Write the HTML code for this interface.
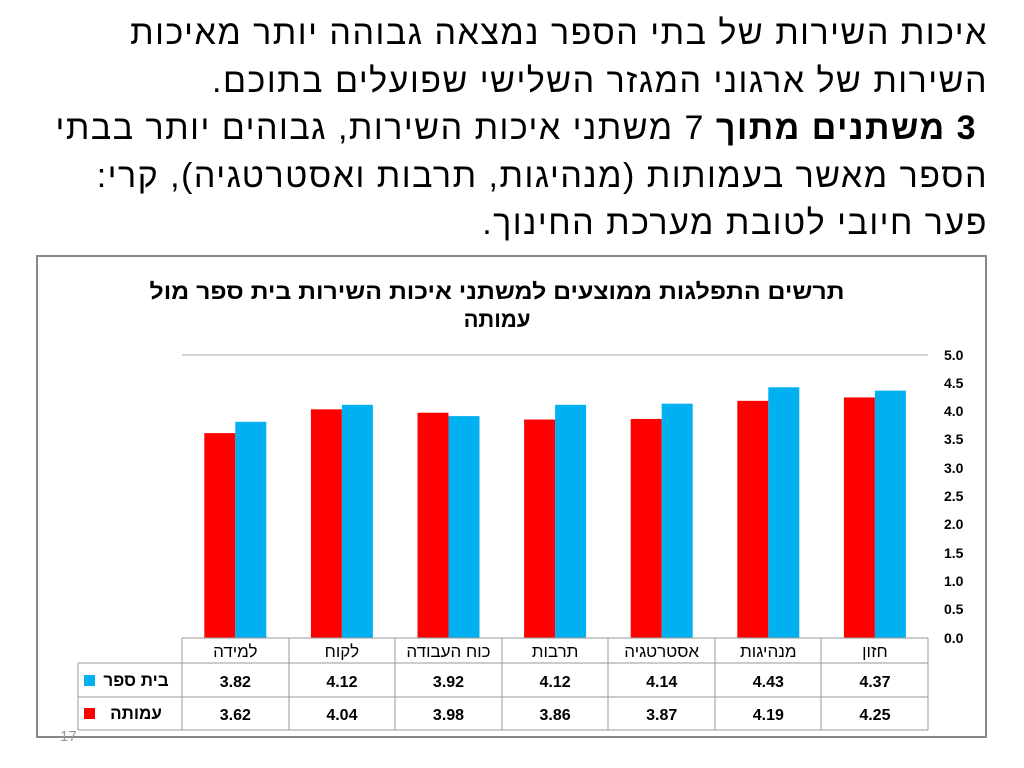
<!DOCTYPE html>
<html><head><meta charset="utf-8"><style>
body{margin:0;width:1024px;height:768px;background:#fff;overflow:hidden;position:relative;font-family:"Liberation Sans","Noto Sans CJK SC",sans-serif}
.t{position:absolute;right:36px;top:10px;width:990px;direction:rtl;text-align:right;font-size:34px;line-height:47.5px;color:#000;white-space:nowrap;letter-spacing:1.5px}
</style></head><body>
<div class="t">איכות השירות של בתי הספר נמצאה גבוהה יותר מאיכות<br>השירות של ארגוני המגזר השלישי שפועלים בתוכם.<br>&nbsp;<b>3 משתנים מתוך</b> 7 משתני איכות השירות, גבוהים יותר בבתי<br>הספר מאשר בעמותות (מנהיגות, תרבות ואסטרטגיה), קרי:<br>פער חיובי לטובת מערכת החינוך.</div>
<svg width="1024" height="768" style="position:absolute;left:0;top:0" font-family="Liberation Sans, sans-serif">
<rect x="37" y="256" width="949" height="481" fill="none" stroke="#888" stroke-width="2"/>
<text x="497" y="299" text-anchor="middle" font-size="22" font-weight="bold" direction="rtl" textLength="695" lengthAdjust="spacingAndGlyphs">תרשים התפלגות ממוצעים למשתני איכות השירות בית ספר מול</text>
<text x="497" y="327" text-anchor="middle" font-size="22" font-weight="bold" direction="rtl">עמותה</text>
<line x1="182" y1="355" x2="928" y2="355" stroke="#aaa"/>
<g font-size="14" font-weight="bold" text-anchor="start">
<text x="944" y="360">5.0</text><text x="944" y="388">4.5</text><text x="944" y="416">4.0</text><text x="944" y="444">3.5</text><text x="944" y="473">3.0</text><text x="944" y="501">2.5</text><text x="944" y="529">2.0</text><text x="944" y="558">1.5</text><text x="944" y="586">1.0</text><text x="944" y="614">0.5</text><text x="944" y="643">0.0</text>
</g>
<g id="bars"></g>
<g stroke="#999" fill="none">
<line x1="182" y1="638" x2="928" y2="638"/>
<line x1="78" y1="663" x2="928" y2="663"/>
<line x1="78" y1="697" x2="928" y2="697"/>
<line x1="78" y1="730" x2="928" y2="730"/>
<line x1="78" y1="663" x2="78" y2="730"/>
<line x1="182" y1="638" x2="182" y2="730"/><line x1="289" y1="638" x2="289" y2="730"/><line x1="395" y1="638" x2="395" y2="730"/><line x1="502" y1="638" x2="502" y2="730"/><line x1="608" y1="638" x2="608" y2="730"/><line x1="715" y1="638" x2="715" y2="730"/><line x1="821" y1="638" x2="821" y2="730"/><line x1="928" y1="638" x2="928" y2="730"/>
</g>
<rect x="84" y="675" width="11" height="11" fill="#00b0f0"/>
<rect x="84" y="708" width="11" height="11" fill="#ff0000"/>
<g font-size="17" font-weight="bold" text-anchor="middle">
<text x="136" y="686" direction="rtl">בית ספר</text>
<text x="136" y="719" direction="rtl">עמותה</text>
</g>
<text x="60" y="741" font-size="15" fill="#999">17</text>
</svg>
<script>
var cats=["למידה","לקוח","כוח העבודה","תרבות","אסטרטגיה","מנהיגות","חזון"];
var b=[3.82,4.12,3.92,4.12,4.14,4.43,4.37],r=[3.62,4.04,3.98,3.86,3.87,4.19,4.25];
var s="";for(var i=0;i<7;i++){var c=182+106.6*i+53.3;
s+='<rect x="'+(c-31)+'" y="'+(638-r[i]*56.6)+'" width="31" height="'+(r[i]*56.6)+'" fill="#ff0000"/>';
s+='<rect x="'+c+'" y="'+(638-b[i]*56.6)+'" width="31" height="'+(b[i]*56.6)+'" fill="#00b0f0"/>';
s+='<text x="'+c+'" y="657" font-size="17" text-anchor="middle" direction="rtl">'+cats[i]+'</text>';
s+='<text x="'+c+'" y="687" font-size="16" font-weight="bold" text-anchor="middle">'+b[i].toFixed(2)+'</text>';
s+='<text x="'+c+'" y="720" font-size="16" font-weight="bold" text-anchor="middle">'+r[i].toFixed(2)+'</text>';}
document.getElementById("bars").innerHTML=s;
</script>
</body></html>
